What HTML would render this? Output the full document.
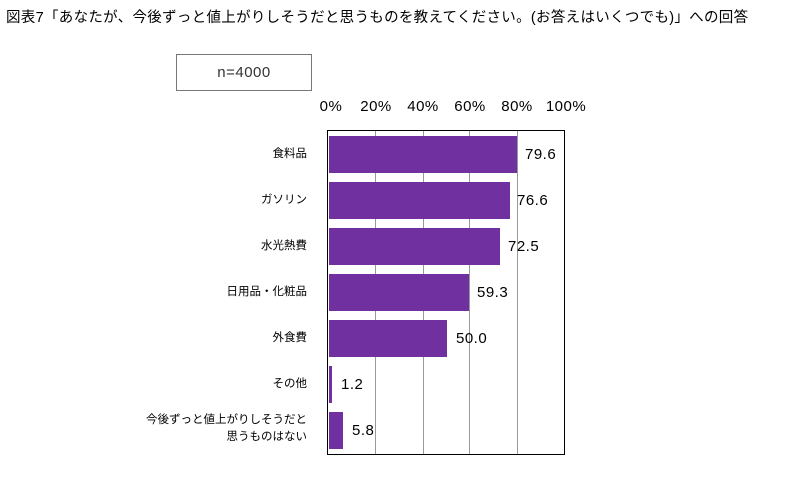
<!DOCTYPE html>
<html><head><meta charset="utf-8"><style>
body{margin:0;width:808px;height:504px;background:#fff;overflow:hidden;position:relative;font-family:"Liberation Sans","Noto Sans CJK JP",sans-serif;color:#000}
.a{position:absolute;white-space:nowrap}
.bar{position:absolute;background:#7030A0;left:329px;height:37px}
.lab{position:absolute;right:501px;font-size:11.5px;text-align:right;line-height:17px}
.val{position:absolute;font-size:15px;line-height:18px;letter-spacing:0.5px}
.grid{position:absolute;top:131px;height:323px;width:1px;background:#999}
.tick{position:absolute;top:98px;font-size:15px;transform:translateX(-50%);letter-spacing:0.5px}
</style></head><body>
<div class="a" style="left:6px;top:6px;font-size:14.5px;letter-spacing:0.3px;">図表7「あなたが、今後ずっと値上がりしそうだと思うものを教えてください。(お答えはいくつでも)」への回答</div>
<div class="a" style="left:176px;top:54px;width:134px;height:35px;border:1px solid #777;font-size:15px;text-align:center;line-height:35px;color:#333;letter-spacing:0.5px">n=4000</div>
<div class="tick" style="left:331px">0%</div>
<div class="tick" style="left:376px">20%</div>
<div class="tick" style="left:423px">40%</div>
<div class="tick" style="left:470px">60%</div>
<div class="tick" style="left:517px">80%</div>
<div class="tick" style="left:566px">100%</div>
<div class="grid" style="left:375px"></div>
<div class="grid" style="left:423px"></div>
<div class="grid" style="left:469px"></div>
<div class="grid" style="left:517px"></div>
<div class="a" style="left:327px;top:130px;width:236px;height:323px;border:1.5px solid #000"></div>
<div class="bar" style="top:136px;width:188px"></div>
<div class="bar" style="top:182px;width:181px"></div>
<div class="bar" style="top:228px;width:171px"></div>
<div class="bar" style="top:274px;width:140px"></div>
<div class="bar" style="top:320px;width:118px"></div>
<div class="bar" style="top:366px;width:3px"></div>
<div class="bar" style="top:412px;width:14px"></div>
<div class="val" style="left:525px;top:146px">79.6</div>
<div class="val" style="left:517px;top:192px">76.6</div>
<div class="val" style="left:508px;top:238px">72.5</div>
<div class="val" style="left:477px;top:284px">59.3</div>
<div class="val" style="left:456px;top:330px">50.0</div>
<div class="val" style="left:341px;top:376px">1.2</div>
<div class="val" style="left:352px;top:422px">5.8</div>
<div class="lab" style="top:146px">食料品</div>
<div class="lab" style="top:192px">ガソリン</div>
<div class="lab" style="top:238px">水光熱費</div>
<div class="lab" style="top:284px">日用品・化粧品</div>
<div class="lab" style="top:330px">外食費</div>
<div class="lab" style="top:376px">その他</div>
<div class="lab" style="top:412px">今後ずっと値上がりしそうだと<br>思うものはない</div>
</body></html>
